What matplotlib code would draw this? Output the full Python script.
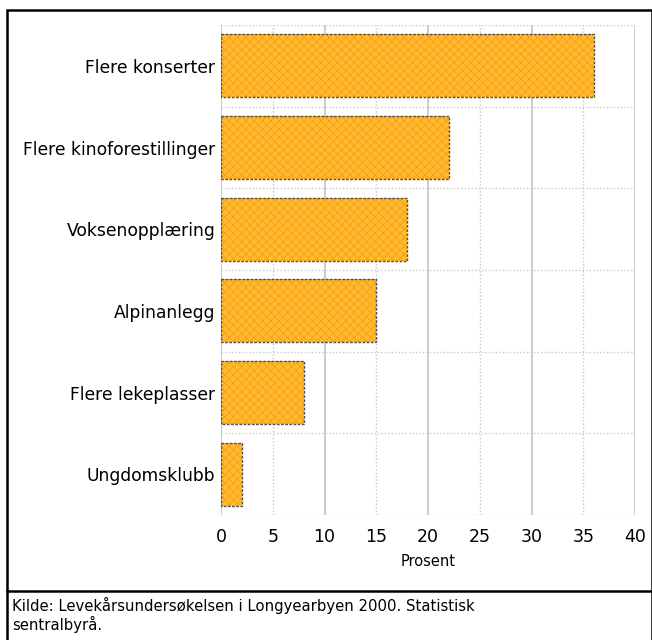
#!/usr/bin/env python3

import numpy as np
import matplotlib.pyplot as plt
from matplotlib.patches import Rectangle
from matplotlib.lines import Line2D

categories = ["Flere konserter", "Flere kinoforestillinger", "Voksenopplæring",
              "Alpinanlegg", "Flere lekeplasser", "Ungdomsklubb"]
values = [36, 22, 18, 15, 8, 2]
xticks = [0, 5, 10, 15, 20, 25, 30, 35, 40]
source = "Kilde: Levekårsundersøkelsen i Longyearbyen 2000. Statistisk\nsentralbyrå."

plt.rcParams['font.family'] = ['DejaVu Sans']
plt.rcParams['hatch.linewidth'] = 0.7

fig = plt.figure(figsize=(6.52, 6.40), dpi=100)
ax = fig.add_axes([0.339, 0.195, 0.635, 0.766])

y = np.arange(len(categories))
# fill with a fine orange cross pattern, then a dashed dark outline on top
ax.barh(y, values, height=0.77, color='#ffba30', edgecolor='#f7a21a',
        linewidth=0, hatch='xxxx', zorder=3)
ax.barh(y, values, height=0.77, fill=False, edgecolor='#5a5040',
        linewidth=1.0, linestyle=(0, (2, 1)), zorder=4)

ax.set_xlim(0, 40)
ax.set_ylim(len(categories) - 0.5, -0.5)
ax.set_yticks(y)
ax.set_yticklabels(categories, fontsize=12.3)
ax.set_xticks(xticks)
ax.set_xticklabels([str(t) for t in xticks], fontsize=12.5)
ax.tick_params(length=0, pad=4)
ax.tick_params(axis='x', pad=9)
ax.set_xlabel("Prosent", fontsize=10.5, labelpad=6)

for s in ax.spines.values():
    s.set_visible(False)

# grid: solid at tens, dotted at fives
for t in xticks:
    if t % 10 == 0:
        ax.axvline(t, color='#c8c8c8', lw=1.3, zorder=1)
    else:
        ax.axvline(t, color='#c8c8c8', lw=1.0, ls=(0, (1, 1.5)), zorder=1)
for b in np.arange(-0.5, len(categories), 1.0):
    ax.axhline(b, color='#c8c8c8', lw=1.0, ls=(0, (1, 1.5)), zorder=1)
ax.axvline(0, color='#c8c8c8', lw=1.0, ls=(0, (1, 1.5)), zorder=2)

# frame around everything and separator above source text
W, H = 652, 640
def fx(px):
    return px / W
def fy(py):
    return 1 - py / H

fig.add_artist(Rectangle((fx(7), fy(641)), fx(652) - fx(7), fy(10) - fy(641),
                         transform=fig.transFigure, fill=False,
                         edgecolor='black', lw=1.8))
fig.add_artist(Line2D([fx(7), fx(652)], [fy(591), fy(591)],
                      transform=fig.transFigure, color='black', lw=1.8))
fig.text(fx(12), fy(597), source, fontsize=10.7, va='top', ha='left',
         linespacing=1.15)

fig.savefig("out.png", dpi=100)
